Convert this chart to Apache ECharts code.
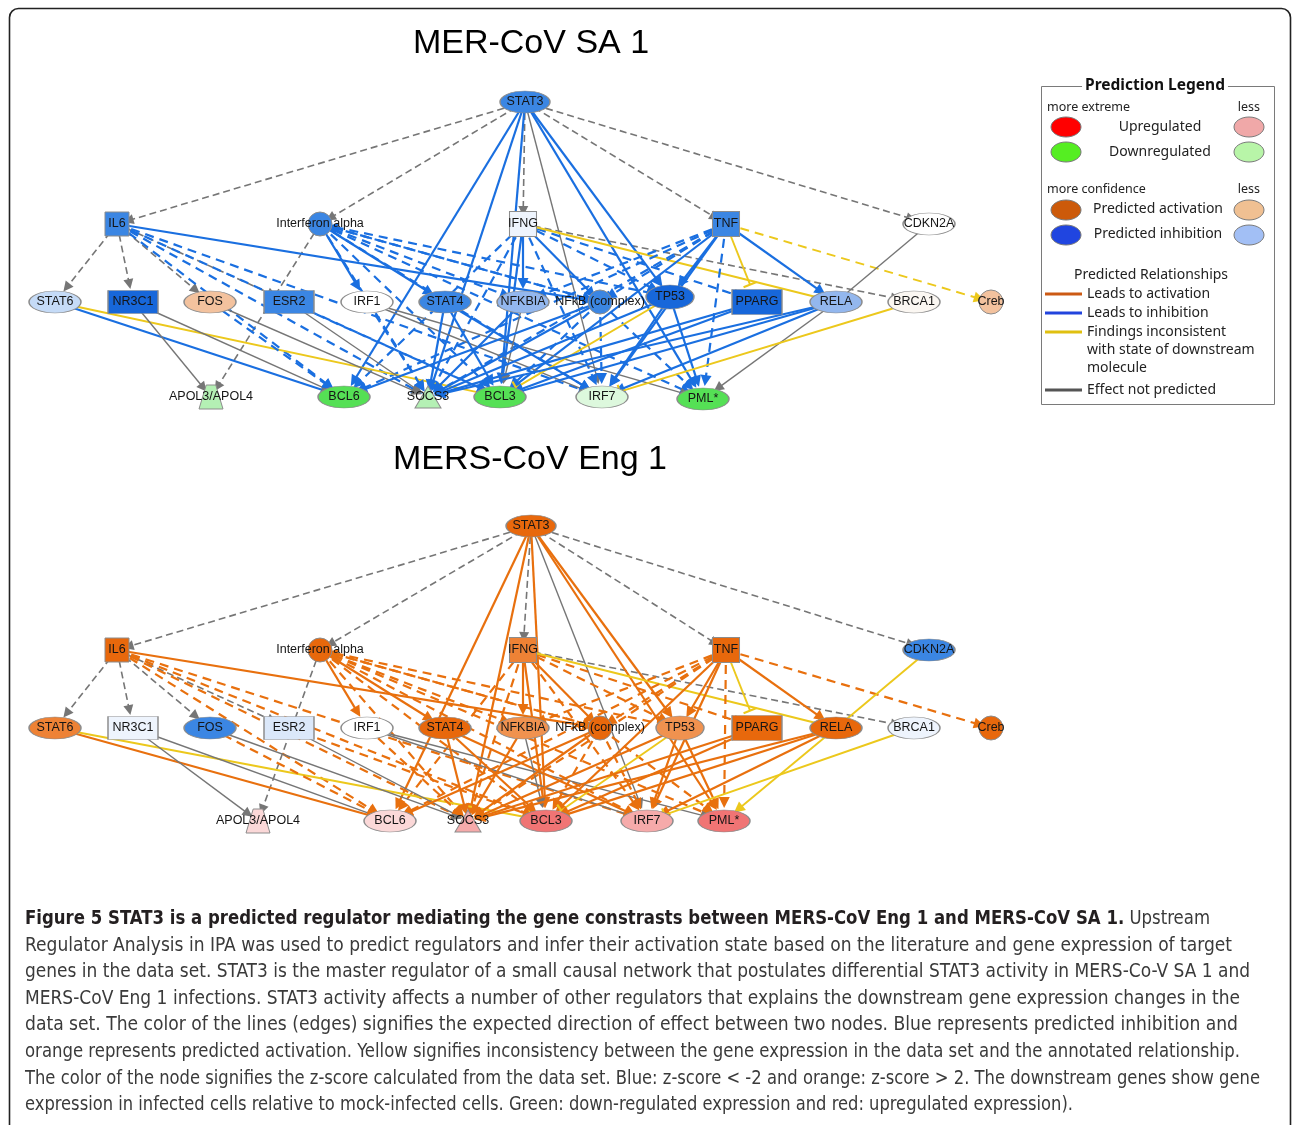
<!DOCTYPE html>
<html><head><meta charset="utf-8">
<script src="https://cdn.jsdelivr.net/npm/echarts@6/dist/echarts.min.js"></script>
<style>html,body{margin:0;padding:0;background:#fff}#c{width:1292px;height:1125px}</style>
</head><body><div id="c"></div><script>
// ---------- DATA ----------
const nodeNames = ['STAT3','IL6','Interferon alpha','IFNG','TNF','CDKN2A','STAT6','NR3C1','FOS','ESR2','IRF1','STAT4','NFKBIA','NFkB (complex)','TP53','PPARG','RELA','BRCA1','Creb','APOL3/APOL4','BCL6','SOCS3','BCL3','IRF7','PML*'];
const nodeKinds = ['e','r','c','r','r','e','e','r','e','r','e','e','e','c','e','r','e','e','c','z','e','t','e','e','e'];
// predicted / measured state of each node (SA 1 network, Eng 1 network)
const statesSA  = ['inh','inh','inh','inhW','inh','none','inhL','inhD','actL','inh','none','inh','inhM','inh','inhD','inhD','inhM','noneW','actL','downL','down','downL','down','downW','down'];
const statesEng = ['act','act','act','actM','act','inh','actM','inhW','inh','inhW2','none','act','actM2','act','actM2','act','act','inhW','act','upW','upW','upL','up','upL','up'];
// edges: source, target, relation in SA 1, relation in Eng 1, dashed, head
const edges = [
 ['STAT3','IL6','g','g',1,'a'],['STAT3','Interferon alpha','g','g',1,'a'],['STAT3','IFNG','g','g',1,'a'],
 ['STAT3','TNF','g','g',1,'a'],['STAT3','CDKN2A','g','g',1,'a'],
 ['IL6','STAT6','g','g',1,'a'],['IL6','NR3C1','g','g',1,'a'],['IL6','FOS','g','g',1,'a'],['IL6','ESR2','g','g',1,'a'],
 ['Interferon alpha','APOL3/APOL4','g','g',1,'a'],['IFNG','BRCA1','g','g',1,'a'],
 ['STAT3','BCL6','p','p',0,'a'],['STAT3','SOCS3','p','p',0,'a'],['STAT3','BCL3','p','p',0,'a'],
 ['STAT3','IRF7','g','g',0,'a'],['STAT3','PML*','p','p',0,'a'],['STAT3','TP53','p','p',0,'a'],
 ['IL6','NFkB (complex)','p','p',0,'a'],['IL6','BCL6','p','p',1,'a'],['IL6','SOCS3','p','p',1,'a'],
 ['IL6','BCL3','p','p',1,'a'],['IL6','IRF7','p','p',1,'a'],
 ['Interferon alpha','IRF1','p','p',0,'a'],['Interferon alpha','STAT4','p','p',0,'a'],
 ['Interferon alpha','NFKBIA','p','p',1,'a'],['Interferon alpha','NFkB (complex)','p','p',1,'a'],
 ['Interferon alpha','TP53','p','p',1,'a'],['Interferon alpha','SOCS3','p','p',1,'a'],
 ['Interferon alpha','BCL3','p','p',1,'a'],['Interferon alpha','IRF7','p','p',1,'a'],['Interferon alpha','PML*','p','p',1,'a'],
 ['NFkB (complex)','Interferon alpha','p','p',1,'a'],['IFNG','NFKBIA','p','p',0,'a'],['IFNG','NFkB (complex)','p','p',0,'a'],
 ['IFNG','TP53','p','p',1,'a'],['IFNG','PPARG','p','p',1,'a'],['IFNG','SOCS3','p','p',1,'a'],
 ['IFNG','BCL3','p','p',0,'a'],['IFNG','IRF7','p','p',1,'a'],['IFNG','BCL6','p','p',1,'a'],['IFNG','RELA','y','y',0,'t'],
 ['TNF','NFkB (complex)','p','p',1,'a'],['TNF','NFKBIA','p','p',1,'a'],['TNF','TP53','p','p',0,'a'],
 ['TNF','PPARG','y','y',0,'t'],['TNF','RELA','p','p',0,'a'],['TNF','Creb','y','p',1,'a'],
 ['TNF','PML*','p','p',1,'a'],['TNF','SOCS3','p','p',1,'a'],['TNF','BCL3','p','p',0,'a'],
 ['TNF','BCL6','p','p',1,'a'],['TNF','IRF7','p','p',0,'a'],
 ['CDKN2A','RELA','g','y',0,'n'],
 ['STAT6','BCL6','p','p',0,'a'],['STAT6','BCL3','y','y',0,'t'],
 ['NR3C1','APOL3/APOL4','g','g',0,'a'],['NR3C1','BCL6','g','g',0,'a'],
 ['FOS','SOCS3','g','g',0,'a'],['FOS','BCL6','p','p',1,'a'],
 ['ESR2','SOCS3','g','g',0,'a'],['ESR2','BCL3','p','p',1,'a'],
 ['IRF1','SOCS3','p','p',1,'a'],['IRF1','IRF7','g','g',0,'a'],['IRF1','PML*','g','g',0,'a'],
 ['STAT4','SOCS3','p','p',0,'a'],['STAT4','BCL3','p','p',0,'a'],['STAT4','IRF7','p','p',0,'a'],
 ['NFKBIA','BCL3','g','g',0,'a'],['NFKBIA','SOCS3','p','p',0,'a'],
 ['NFkB (complex)','BCL6','p','p',0,'a'],['NFkB (complex)','SOCS3','p','p',0,'a'],
 ['NFkB (complex)','BCL3','p','p',1,'a'],['NFkB (complex)','IRF7','p','p',1,'a'],['NFkB (complex)','PML*','p','p',1,'a'],
 ['TP53','IRF7','p','p',0,'a'],['TP53','PML*','p','p',0,'a'],['TP53','BCL3','y','y',0,'t'],['TP53','SOCS3','p','p',0,'a'],
 ['PPARG','BCL3','p','p',0,'a'],['PPARG','SOCS3','p','p',0,'a'],
 ['RELA','BCL3','p','p',0,'a'],['RELA','IRF7','p','p',0,'a'],['RELA','SOCS3','p','p',0,'a'],['RELA','PML*','g','y',0,'a'],
 ['BRCA1','IRF7','y','y',0,'t']
];
const titleSA = 'MER-CoV SA 1';
const titleEng = 'MERS-CoV Eng 1';
const captionBold = 'Figure 5 STAT3 is a predicted regulator mediating the gene constrasts between MERS-CoV Eng 1 and MERS-CoV SA 1.';
const captionLines = [
 ' Upstream',
 'Regulator Analysis in IPA was used to predict regulators and infer their activation state based on the literature and gene expression of target',
 'genes in the data set. STAT3 is the master regulator of a small causal network that postulates differential STAT3 activity in MERS-Co-V SA 1 and',
 'MERS-CoV Eng 1 infections. STAT3 activity affects a number of other regulators that explains the downstream gene expression changes in the',
 'data set. The color of the lines (edges) signifies the expected direction of effect between two nodes. Blue represents predicted inhibition and',
 'orange represents predicted activation. Yellow signifies inconsistency between the gene expression in the data set and the annotated relationship.',
 'The color of the node signifies the z-score calculated from the data set. Blue: z-score < -2 and orange: z-score > 2. The downstream genes show gene',
 'expression in infected cells relative to mock-infected cells. Green: down-regulated expression and red: upregulated expression).'
];

// ---------- LAYOUT (layout units = page pixels via hidden axes) ----------
const layoutSA = [[525,102],[117,224],[320,224],[523,224],[726,224],[929,224],
 [55,302],[133,302],[210,302],[289,302],[367,302],[445,302],[523,302],[600,302],[670,297],[757,302],[836,302],[914,302],[991,302],
 [211,397],[344,397],[428,397],[500,397],[602,397],[703,399]];
const layoutEng = [[531,526],[117,650],[320,650],[523,650],[726,650],[929,650],
 [55,728],[133,728],[210,728],[289,728],[367,728],[445,728],[523,728],[600,728],[680,728],[757,728],[836,728],[914,728],[991,728],
 [258,821],[390,821],[468,821],[546,821],[647,821],[724,821]];
const capX = 25;
const capEnd = [1210, 1232, 1250, 1240, 1238, 1240, 1260, 1073];
const capY = [919, 946, 972, 999, 1025, 1052, 1079, 1105];

// ---------- STYLES ----------
const stateFill = {
 inh:'#3b86e3', inhD:'#1767da', inhM:'#93b7ee', inhL:'#c5dbf7', inhW:'#eef4fd', inhW2:'#dbe8fa',
 none:'#ffffff', noneW:'#fbf7f2',
 act:'#e8680c', actM:'#ee8235', actM2:'#f0924f', actL:'#f3c29e',
 down:'#55e055', downL:'#b4f0b4', downW:'#ddf8dd',
 up:'#f07474', upL:'#f6aaaa', upW:'#fbd8d8'
};
const kindSymbol = {e:'circle', r:'rect', c:'circle', z:'path://M3,0L7,0L10,10L0,10Z', t:'triangle'};
const kindSize = {e:[52,22], r:[50,23], c:[24,24], z:[24,24], t:[26,22]};
const sizeOverride = {'IL6':[24,24],'IFNG':[27,25],'TNF':[27,25],'STAT3':[50,22],'TP53':[48,24],'PPARG':[50,25]};
const relColorSA = {p:'#1a6fe0', y:'#ecc81c', g:'#767676'};
const relColorEng = {p:'#e8700e', y:'#ecc81c', g:'#767676'};
const TBAR = 'path://M0,8.5L20,8.5L20,11.5L0,11.5Z M0,0L0,0 M0,20L0,20';
const FONT = '"Liberation Sans", Arial, sans-serif';

function buildNodes(layout, states) {
  return nodeNames.map((n, i) => {
    const k = nodeKinds[i];
    const fill = stateFill[states[i]];
    return {
      name: n, value: layout[i],
      symbol: kindSymbol[k],
      symbolSize: sizeOverride[n] || kindSize[k],
      itemStyle: {color: fill, borderColor: '#8c8c8c', borderWidth: 1},
      label: {show: true, position: 'inside', color: '#151515', fontSize: 12.5, fontFamily: FONT}
    };
  });
}
function buildLinks(col, which) {
  return edges.map(e => {
    const rel = e[which];
    const dashed = e[4] === 1;
    const head = e[5];
    let w = rel === 'g' ? (dashed ? 1.6 : 1.4) : (rel === 'y' ? 1.9 : 2.2);
    let dash = dashed ? (rel === 'g' ? [7, 4] : [9, 6]) : 'solid';
    let sym = head === 'a' ? 'triangle' : (head === 't' ? TBAR : 'none');
    let ss = head === 'a' ? (rel === 'g' ? 10 : 11) : 14;
    return {
      source: e[0], target: e[1],
      symbol: ['none', sym], symbolSize: [0, ss],
      lineStyle: {color: col[rel], width: w, type: dash, opacity: 1, curveness: 0}
    };
  });
}

// caption: each line is fitted horizontally to the reference line length
const CAP_FONT = '"Liberation Sans Narrow", "DejaVu Sans Condensed", "Roboto Condensed", "Open Sans", sans-serif';
const CAP_SIZE = 19;
const mctx = document.createElement('canvas').getContext('2d');
function measure(t, bold) {
  mctx.font = (bold ? 'bold ' : '') + CAP_SIZE + 'px ' + CAP_FONT;
  return mctx.measureText(t).width;
}
const capGroups = captionLines.map((t, i) => {
  let w, child;
  if (i === 0) {
    w = measure(captionBold, true) + measure(t, false);
    child = {type: 'text', x: 0, y: 0, style: {
      text: '{b|' + captionBold + '}{n|' + t + '}',
      verticalAlign: 'middle', align: 'left',
      rich: {
        b: {fontFamily: CAP_FONT, fontSize: CAP_SIZE, fontWeight: 'bold', fill: '#231f20'},
        n: {fontFamily: CAP_FONT, fontSize: CAP_SIZE, fill: '#3a3a3a'}
      }}};
  } else {
    w = measure(t, false);
    child = {type: 'text', x: 0, y: 0, style: {text: t, fontFamily: CAP_FONT, fontSize: CAP_SIZE, fill: '#3a3a3a', verticalAlign: 'middle', align: 'left'}};
  }
  return {type: 'group', x: capX, y: capY[i], scaleX: (capEnd[i] - capX) / w, children: [child]};
});

const LF = '"Noto Sans", "Open Sans", sans-serif';
function ltxt(x, y, text, size, align, extra) {
  return {type: 'text', x: x, y: y, style: Object.assign({text: text, fontFamily: LF, fontSize: size, fill: '#222', align: align || 'left', verticalAlign: 'middle'}, extra || {})};
}
function lell(cx, cy, fill) {
  return {type: 'ellipse', shape: {cx: cx, cy: cy, rx: 15, ry: 10}, style: {fill: fill, stroke: '#7a7a7a', lineWidth: 1}};
}
function lline(y, col) {
  return {type: 'line', shape: {x1: 1045, y1: y, x2: 1082, y2: y}, style: {stroke: col, lineWidth: 3}};
}

const graphic = [
  {type: 'rect', z: -10, silent: true, shape: {x: 9.5, y: 8.5, width: 1281, height: 1300, r: 9}, style: {fill: 'none', stroke: '#222', lineWidth: 1.6}},
  {type: 'text', x: 531, y: 44, style: {text: titleSA, fontFamily: FONT, fontSize: 34, fill: '#000', align: 'center', verticalAlign: 'middle'}},
  {type: 'text', x: 530, y: 460, style: {text: titleEng, fontFamily: FONT, fontSize: 34, fill: '#000', align: 'center', verticalAlign: 'middle'}},
  {type: 'rect', shape: {x: 1041.5, y: 86.5, width: 233, height: 318}, style: {fill: '#fff', stroke: '#7a7a7a', lineWidth: 1}},
  ltxt(1155, 86, 'Prediction Legend', 15.5, 'center', {fontWeight: 'bold', fill: '#111', backgroundColor: '#fff', padding: [0, 3]}),
  ltxt(1047, 107, 'more extreme', 12.5), ltxt(1260, 107, 'less', 12.5, 'right'),
  lell(1066, 127, '#ff0000'), ltxt(1160, 127, 'Upregulated', 14, 'center'), lell(1249, 127, '#f0a8a8'),
  lell(1066, 152, '#55ee22'), ltxt(1160, 152, 'Downregulated', 14, 'center'), lell(1249, 152, '#b8f5a8'),
  ltxt(1047, 189, 'more confidence', 12.5), ltxt(1260, 189, 'less', 12.5, 'right'),
  lell(1066, 210, '#cc5a0a'), ltxt(1158, 209, 'Predicted activation', 14, 'center'), lell(1249, 210, '#f0c092'),
  lell(1066, 235, '#2045e0'), ltxt(1158, 234, 'Predicted inhibition', 14, 'center'), lell(1249, 235, '#a2bff5'),
  ltxt(1151, 275, 'Predicted Relationships', 14, 'center'),
  lline(294, '#cc5a14'), ltxt(1087, 294, 'Leads to activation', 14),
  lline(313, '#2244dd'), ltxt(1087, 313, 'Leads to inhibition', 14),
  lline(332, '#e0c010'), ltxt(1087, 332, 'Findings inconsistent', 14),
  ltxt(1087, 350, 'with state of downstream', 14), ltxt(1087, 368, 'molecule', 14),
  lline(390, '#555555'), ltxt(1087, 390, 'Effect not predicted', 14)
].concat(capGroups);

const chart = echarts.init(document.getElementById('c'), null, {renderer: 'canvas'});
chart.setOption({
  animation: false,
  backgroundColor: '#fff',
  grid: {left: 0, right: 0, top: 0, bottom: 0},
  xAxis: {type: 'value', min: 0, max: 1292, show: false},
  yAxis: {type: 'value', min: 0, max: 1125, inverse: true, show: false},
  graphic: graphic,
  series: [
    {type: 'graph', coordinateSystem: 'cartesian2d', silent: true,
     data: buildNodes(layoutSA, statesSA), links: buildLinks(relColorSA, 2),
     emphasis: {disabled: true}},
    {type: 'graph', coordinateSystem: 'cartesian2d', silent: true,
     data: buildNodes(layoutEng, statesEng), links: buildLinks(relColorEng, 3),
     emphasis: {disabled: true}}
  ]
});
</script></body></html>
